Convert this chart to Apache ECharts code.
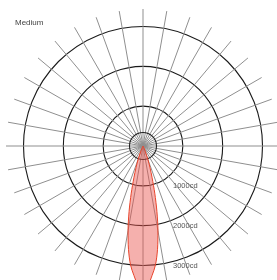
<!DOCTYPE html>
<html>
<head>
<meta charset="utf-8">
<script src="https://cdn.jsdelivr.net/npm/echarts@6/dist/echarts.min.js"></script>
<style>
html,body{margin:0;padding:0;background:#fff}
#main{width:277px;height:280px}
</style>
</head>
<body>
<div id="main"></div>
<script>
// 配光曲线 (Medium)
var chartTitle = 'Medium';
var ringValues = [1000, 2000, 3000];
var lobeAngles = [-26, -24, -22, -20, -18, -16, -14, -12, -10, -8, -6, -4, -2, 0,
	2, 4, 6, 8, 10, 12, 14, 16, 18, 20, 22, 24, 26];
var lobeValues = [0, 60, 190, 360, 560, 830, 1220, 1680, 2160, 2620, 3000, 3260, 3500, 3580,
	3500, 3260, 3000, 2620, 2160, 1680, 1220, 830, 560, 360, 190, 60, 0];

var lobeData = [];
for (var i = 0; i < lobeAngles.length; i++) {
	lobeData.push([lobeValues[i], lobeAngles[i]]);
}

var myChart = echarts.init(document.getElementById('main'));
var center = [143, 146];
var option = {
	animation: false,
	title: {
		text: chartTitle,
		left: 10,
		top: 14,
		textStyle: { fontSize: 8, fontWeight: 'normal', color: '#444', fontFamily: 'Liberation Sans' }
	},
	polar: [
		{ center: center, radius: 137 },
		{ center: center, radius: 119.5 },
		{ center: center, radius: 13.5 }
	],
	angleAxis: [{
		polarIndex: 0,
		type: 'value',
		min: -180,
		max: 180,
		interval: 10,
		startAngle: 90,
		clockwise: true,
		axisLine: { show: false },
		axisTick: { show: false },
		axisLabel: { show: false },
		splitLine: { show: true, lineStyle: { color: '#8f8f8f', width: 1 } }
	}, {
		polarIndex: 1,
		type: 'value',
		min: 0,
		max: 360,
		startAngle: 270,
		axisLine: { show: false },
		axisTick: { show: false },
		axisLabel: { show: false },
		splitLine: { show: false }
	}, {
		polarIndex: 2,
		type: 'value',
		min: 0,
		max: 360,
		axisLine: { show: true, lineStyle: { color: '#222', width: 1.1 } },
		axisTick: { show: false },
		axisLabel: { show: false },
		splitLine: { show: false }
	}],
	radiusAxis: [{
		polarIndex: 0,
		type: 'value',
		min: 0,
		max: 3440,
		axisLine: { show: false },
		axisTick: { show: false },
		axisLabel: { show: false },
		splitLine: { show: false }
	}, {
		polarIndex: 1,
		type: 'value',
		min: 0,
		max: ringValues[ringValues.length - 1],
		interval: ringValues[0],
		axisLine: { show: false },
		axisTick: { show: false },
		axisLabel: {
			show: true,
			margin: 30,
			fontSize: 7.5,
			color: '#555',
			fontFamily: 'Liberation Sans',
			formatter: function(v) { return v ? v + 'cd' : ''; }
		},
		splitLine: { show: true, lineStyle: { color: '#1a1a1a', width: 1.1 } }
	}, {
		polarIndex: 2,
		type: 'value',
		show: false
	}],
	series: [{
		type: 'line',
		coordinateSystem: 'polar',
		polarIndex: 0,
		clip: false,
		smooth: 0.3,
		symbol: 'none',
		data: lobeData,
		lineStyle: { color: '#e8452c', width: 1 },
		areaStyle: { color: '#e9504a', opacity: 0.45 }
	}]
};
myChart.setOption(option);
</script>
</body>
</html>
